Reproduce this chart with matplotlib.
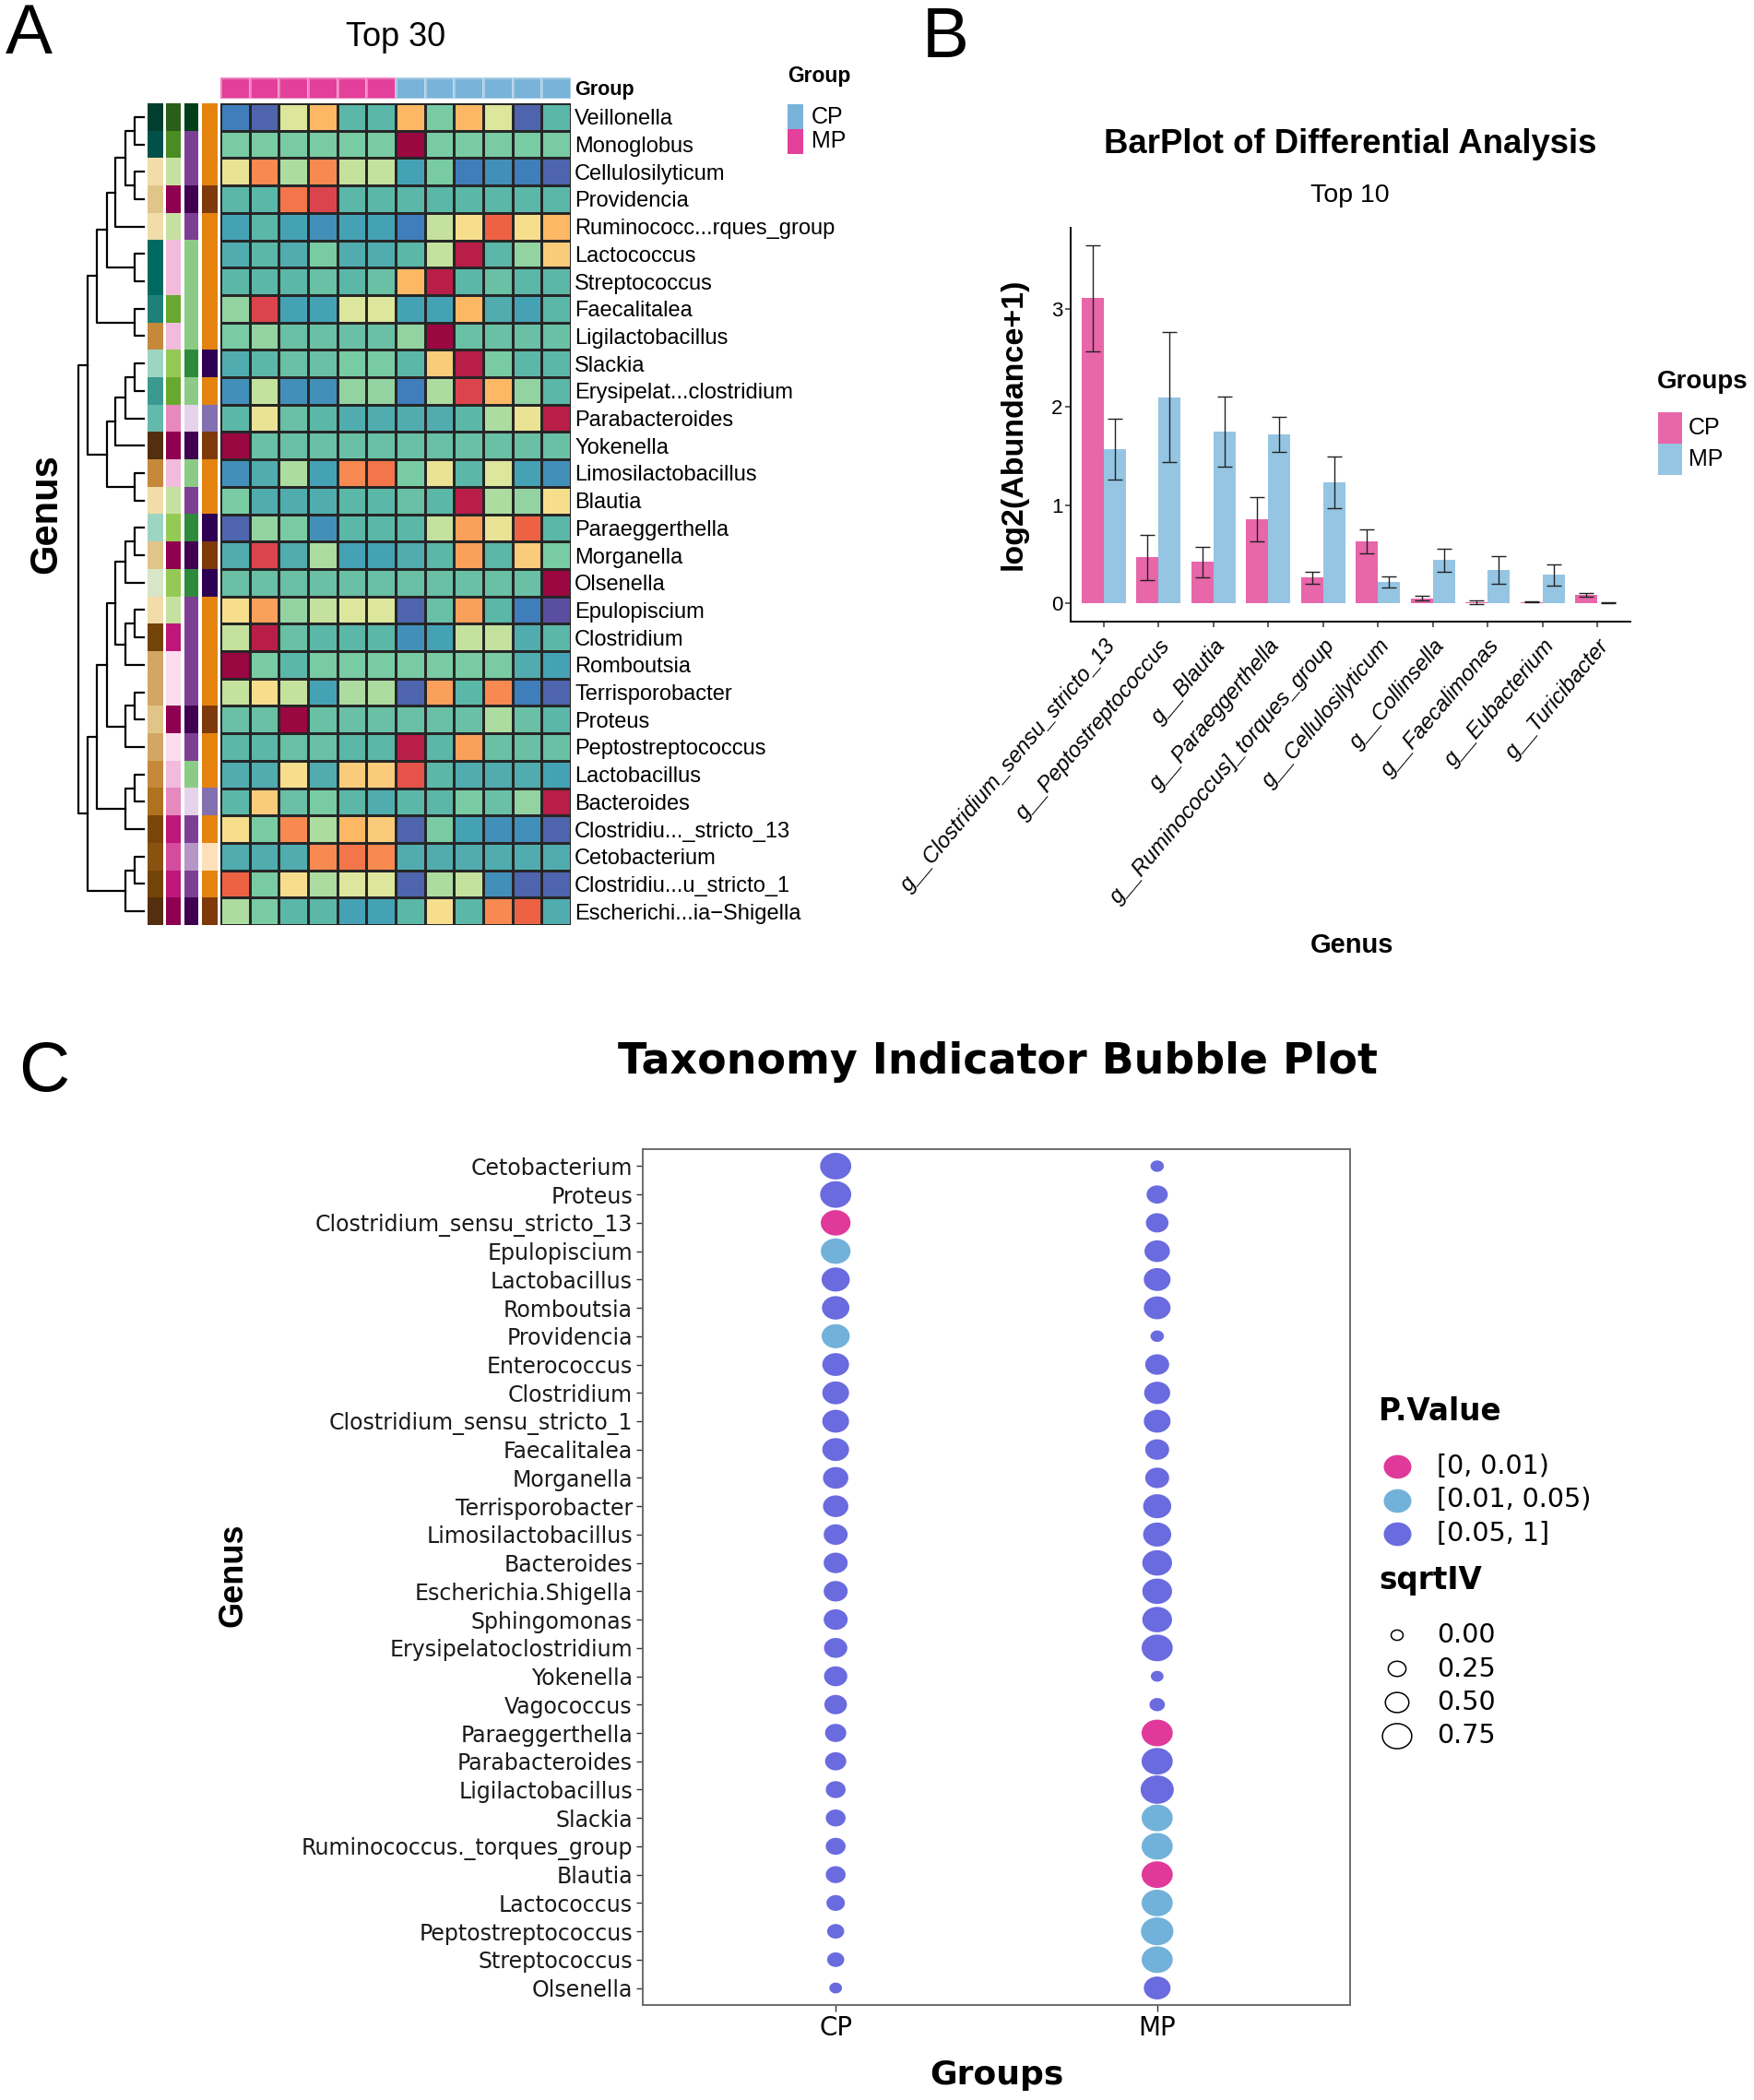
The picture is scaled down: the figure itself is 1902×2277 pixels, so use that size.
import numpy as np
import matplotlib
matplotlib.use("Agg")
import matplotlib.pyplot as plt
from matplotlib.colors import LinearSegmentedColormap, ListedColormap, to_rgb
from matplotlib.patches import Rectangle
from matplotlib.path import Path

W, H = 1902, 2277
ARIAL = ['Liberation Sans', 'DejaVu Sans']
WIDE = ['DejaVu Sans']

## ---------------- panel A data: top 30 heatmap ----------------
genus_a = ['Veillonella', 'Monoglobus', 'Cellulosilyticum', 'Providencia',
           'Ruminococc...rques_group', 'Lactococcus', 'Streptococcus', 'Faecalitalea',
           'Ligilactobacillus', 'Slackia', 'Erysipelat...clostridium', 'Parabacteroides',
           'Yokenella', 'Limosilactobacillus', 'Blautia', 'Paraeggerthella', 'Morganella',
           'Olsenella', 'Epulopiscium', 'Clostridium', 'Romboutsia', 'Terrisporobacter',
           'Proteus', 'Peptostreptococcus', 'Lactobacillus', 'Bacteroides',
           'Clostridiu..._stricto_13', 'Cetobacterium', 'Clostridiu...u_stricto_1',
           'Escherichi...ia\u2212Shigella']
sample_group = ['MP'] * 6 + ['CP'] * 6

# colour level of each cell (0 = low/blue ... 13 = high/dark red)
heat_level = [
    [1, 0.5, 6, 8, 3, 3, 8, 4, 8, 6, 0.5, 3],
    [4, 4, 4, 4, 4, 4, 13, 4, 4, 4, 4, 4],
    [6.5, 9, 5, 9, 5.5, 5.5, 2, 4, 1, 1.5, 1, 0.5],
    [3, 3, 9.5, 11, 3, 3, 3, 3, 3, 3, 3, 3],
    [2, 3, 2, 1.5, 2, 2, 1, 5.5, 7, 10, 7, 8],
    [2.5, 3, 2.5, 4, 2.5, 2.5, 3, 5.5, 12, 3, 4.5, 7.5],
    [3, 3, 3, 3.5, 3, 3.5, 8, 12, 3, 3.5, 3, 3],
    [4.5, 11, 2, 2, 6, 6, 2, 2, 8, 2.5, 2, 3],
    [4, 4.5, 3.5, 3.5, 3.5, 3.5, 4.5, 13, 3.5, 3.5, 3.5, 3.5],
    [2.5, 3, 3.5, 3.5, 4, 4, 3, 7.5, 12, 4, 3, 3],
    [1.5, 5.5, 1.5, 1.5, 4.5, 4.5, 1, 5, 11, 8, 4.5, 3],
    [3, 6.5, 3.5, 3, 2.5, 2.5, 2.5, 2.5, 3, 5, 6.5, 12],
    [13, 3.5, 3.5, 3.5, 3.5, 3.5, 3.5, 3.5, 3.5, 3.5, 3.5, 3.5],
    [1.5, 2.5, 5, 2, 9, 9.5, 4, 6.5, 3, 6, 2, 1.5],
    [4, 2.5, 2.5, 2.5, 3, 3, 3.5, 3, 12, 5, 4.5, 7],
    [0.5, 4.5, 4, 1.5, 3, 3, 3, 5.5, 8.5, 6.5, 10, 3],
    [2.5, 11, 2.5, 5, 2, 2, 2.5, 3, 8.5, 3, 7.5, 4],
    [3.5, 3.5, 3.5, 3.5, 3.5, 3.5, 3.5, 3.5, 3.5, 3.5, 3.5, 13],
    [7, 8.5, 4.5, 5.5, 6, 6, 0.5, 3.5, 8.5, 3, 1, 0],
    [5.5, 12, 3.5, 3, 3, 3, 1.5, 2, 5.5, 5.5, 2.5, 3],
    [13, 4, 3, 4, 4, 4, 4, 4, 4, 4, 2.5, 2],
    [5.5, 7, 5.5, 2, 5, 5, 0.5, 8.5, 3, 9, 1, 0.5],
    [3.5, 3.5, 13, 3.5, 3.5, 3.5, 3.5, 3.5, 3.5, 5, 3.5, 3],
    [3, 3, 3.5, 3.5, 3, 3, 12, 3, 8.5, 3.5, 3.5, 3.5],
    [2.5, 2.5, 7, 2.5, 7.5, 7.5, 10.5, 3, 2.5, 2.5, 2.5, 2],
    [3, 7.5, 3.5, 4, 3, 2.5, 3, 3, 4, 3.5, 4.5, 12],
    [7, 4, 9, 5, 8, 7.5, 0.5, 4, 2, 1.5, 1.5, 0.5],
    [2.5, 2.5, 2.5, 9, 9.5, 9, 2.5, 2.5, 2.5, 2.5, 2.5, 2.5],
    [10, 4, 7, 5, 6, 6, 0.5, 5, 5.5, 1.5, 0.5, 0.5],
    [5, 4, 3, 3, 2, 2, 3, 7, 3, 9, 10, 2.5],
]

# taxonomy annotation colours (4 rank columns) per row
tax_colors = [
    ('#003F2E', '#2A5E19', '#003F18', '#E4840F'),
    ('#02504A', '#4A8B24', '#7D3F93', '#E4840F'),
    ('#F1DCAA', '#C6E19F', '#7D3F93', '#E4840F'),
    ('#E1C588', '#8F0050', '#3F0050', '#7E3A0A'),
    ('#F1DCAA', '#C6E19F', '#7D3F93', '#E4840F'),
    ('#006A62', '#F2BBDC', '#8CCB86', '#E4840F'),
    ('#006A62', '#F2BBDC', '#8CCB86', '#E4840F'),
    ('#1F8079', '#67A92F', '#8CCB86', '#E4840F'),
    ('#C6883A', '#F2BBDC', '#8CCB86', '#E4840F'),
    ('#9DD5C2', '#95C956', '#2E8B3E', '#2D0054'),
    ('#3B9A8F', '#67A92F', '#8CCB86', '#E4840F'),
    ('#63BAAC', '#E788BE', '#E6D3EB', '#8270B0'),
    ('#542F0F', '#8F0050', '#3F0050', '#7E3A0A'),
    ('#C6883A', '#F2BBDC', '#8CCB86', '#E4840F'),
    ('#F1DCAA', '#C6E19F', '#7D3F93', '#E4840F'),
    ('#9DD5C2', '#95C956', '#2E8B3E', '#2D0054'),
    ('#E1C588', '#8F0050', '#3F0050', '#7E3A0A'),
    ('#D8E6C7', '#95C956', '#2E8B3E', '#2D0054'),
    ('#F1DCAA', '#C6E19F', '#7D3F93', '#E4840F'),
    ('#734307', '#BF1779', '#7D3F93', '#E4840F'),
    ('#D2A763', '#FBDDEE', '#7D3F93', '#E4840F'),
    ('#D2A763', '#FBDDEE', '#7D3F93', '#E4840F'),
    ('#E1C588', '#8F0050', '#3F0050', '#7E3A0A'),
    ('#D2A763', '#FBDDEE', '#7D3F93', '#E4840F'),
    ('#C6883A', '#F2BBDC', '#8CCB86', '#E4840F'),
    ('#AF721E', '#E788BE', '#E6D3EB', '#8270B0'),
    ('#7A4608', '#BF1779', '#7D3F93', '#E4840F'),
    ('#8A5210', '#D34C9D', '#B796C7', '#FDE0BA'),
    ('#734307', '#BF1779', '#7D3F93', '#E4840F'),
    ('#542F0F', '#8F0050', '#3F0050', '#7E3A0A'),
]

# row dendrogram: (left, right, height), new clusters numbered from 30
merges = [
    (0, 1, 1.0), (2, 3, 1.0), (30, 31, 2.0), (32, 4, 3.15), (5, 6, 1.0),
    (33, 34, 4.05), (7, 8, 1.0), (35, 36, 5.1), (9, 10, 1.0), (38, 11, 2.0),
    (39, 12, 3.15), (13, 14, 1.0), (40, 41, 4.05), (37, 42, 6.1), (15, 16, 1.0),
    (44, 17, 2.0), (18, 19, 1.0), (46, 20, 2.0), (45, 47, 3.15), (21, 22, 1.0),
    (49, 23, 2.0), (48, 50, 4.05), (24, 25, 1.0), (52, 26, 2.0), (51, 53, 5.1),
    (27, 28, 1.0), (55, 29, 2.0), (54, 56, 6.1), (43, 57, 7.15),
]

## ---------------- panel B data: top 10 barplot ----------------
genus_b = ['g__Clostridium_sensu_stricto_13', 'g__Peptostreptococcus', 'g__Blautia',
           'g__Paraeggerthella', 'g__Ruminococcus]_torques_group', 'g__Cellulosilyticum',
           'g__Collinsella', 'g__Faecalimonas', 'g__Eubacterium', 'g__Turicibacter']
cp_mean = [3.11, 0.47, 0.42, 0.86, 0.26, 0.63, 0.05, 0.01, 0.012, 0.086]
cp_err = [0.54, 0.23, 0.155, 0.225, 0.063, 0.12, 0.025, 0.016, 0.006, 0.02]
mp_mean = [1.57, 2.10, 1.75, 1.72, 1.23, 0.215, 0.44, 0.34, 0.29, 0.005]
mp_err = [0.31, 0.66, 0.355, 0.18, 0.265, 0.057, 0.115, 0.14, 0.11, 0.003]

## ---------------- panel C data: indicator bubble plot ----------------
genus_c = ['Cetobacterium', 'Proteus', 'Clostridium_sensu_stricto_13', 'Epulopiscium',
           'Lactobacillus', 'Romboutsia', 'Providencia', 'Enterococcus', 'Clostridium',
           'Clostridium_sensu_stricto_1', 'Faecalitalea', 'Morganella', 'Terrisporobacter',
           'Limosilactobacillus', 'Bacteroides', 'Escherichia.Shigella', 'Sphingomonas',
           'Erysipelatoclostridium', 'Yokenella', 'Vagococcus', 'Paraeggerthella',
           'Parabacteroides', 'Ligilactobacillus', 'Slackia', 'Ruminococcus._torques_group',
           'Blautia', 'Lactococcus', 'Peptostreptococcus', 'Streptococcus', 'Olsenella']
cp_sqrtiv = [0.83, 0.83, 0.77, 0.77, 0.70, 0.67, 0.70, 0.64, 0.64, 0.64, 0.64, 0.58, 0.58,
             0.52, 0.52, 0.52, 0.52, 0.49, 0.49, 0.46, 0.40, 0.40, 0.34, 0.34, 0.34, 0.34,
             0.28, 0.22, 0.22, 0.03]
mp_sqrtiv = [0.06, 0.40, 0.46, 0.58, 0.64, 0.64, 0.06, 0.52, 0.61, 0.64, 0.52, 0.52, 0.70,
             0.70, 0.77, 0.77, 0.77, 0.83, 0.03, 0.15, 0.83, 0.83, 0.92, 0.83, 0.83, 0.83,
             0.83, 0.89, 0.83, 0.64]
p_levels = ['[0, 0.01)', '[0.01, 0.05)', '[0.05, 1]']
cp_p = [2, 2, 0, 1, 2, 2, 1, 2, 2, 2, 2, 2, 2, 2, 2, 2, 2, 2, 2, 2, 2, 2, 2, 2, 2, 2, 2, 2, 2, 2]
mp_p = [2, 2, 2, 2, 2, 2, 2, 2, 2, 2, 2, 2, 2, 2, 2, 2, 2, 2, 2, 2, 0, 2, 2, 1, 1, 0, 1, 1, 1, 2]
size_breaks = [0.00, 0.25, 0.50, 0.75]

# colours
heat_colors = ['#5A4EA0', '#3F7FBC', '#45A2B5', '#5BB7A7', '#7ACBA3', '#ADDCA1', '#DCE69C',
               '#F7DE8D', '#FDB866', '#F88A50', '#EE6244', '#DC444D', '#B91F48', '#9A0741']
GRP_PINK, GRP_BLUE = '#E2409A', '#78B3DA'
BAR_PINK, BAR_BLUE = '#E866AA', '#95C5E3'
P_COLORS = ['#E0399A', '#72B2DA', '#6A6BDF']


def box(x0, y0, x1, y1):
    # pixel box (top-left origin) -> figure fraction
    return [x0 / W, 1 - y1 / H, (x1 - x0) / W, (y1 - y0) / H]


def bubble_size(v):
    w_px = 13 + 25 * np.asarray(v, dtype=float)
    return (w_px * 0.72) ** 2


t = np.linspace(0, 2 * np.pi, 73)
ELLIPSE = Path(np.column_stack([np.cos(t), 0.855 * np.sin(t)]))

plt.rcParams['font.family'] = ARIAL
fig = plt.figure(figsize=(W / 100, H / 100), dpi=100)
overlay = fig.add_axes([0, 0, 1, 1])
overlay.set_xlim(0, W)
overlay.set_ylim(H, 0)
overlay.axis('off')

## ---------------- panel A ----------------
nrow, ncol = len(genus_a), len(sample_group)
ax_hm = fig.add_axes(box(239, 112, 619, 1003))
ax_hm.pcolormesh(np.array(heat_level), cmap=LinearSegmentedColormap.from_list('heat', heat_colors),
                 vmin=0, vmax=13, edgecolors='#262626', linewidth=0.8)
ax_hm.set_xlim(0, ncol)
ax_hm.set_ylim(nrow, 0)
ax_hm.set_xticks([])
ax_hm.yaxis.tick_right()
ax_hm.set_yticks(np.arange(nrow) + 0.5, genus_a, fontsize=17)
ax_hm.tick_params(axis='y', length=0, pad=3)
for s in ax_hm.spines.values():
    s.set_visible(False)

ax_grp = fig.add_axes(box(239, 84, 619, 107))
grp_codes = [[0 if g == 'MP' else 1 for g in sample_group]]
ax_grp.pcolormesh(grp_codes, cmap=ListedColormap([GRP_PINK, GRP_BLUE]), vmin=-0.5, vmax=1.5,
                  edgecolors=(1, 1, 1, 0.35), linewidth=0.8)
ax_grp.set_xticks([])
ax_grp.yaxis.tick_right()
ax_grp.set_yticks([0.5], ['Group'], fontsize=15.5, fontweight='bold')
ax_grp.tick_params(axis='y', length=0, pad=3)
for s in ax_grp.spines.values():
    s.set_visible(False)

ann_cols = [(160, 176), (180, 196), (200, 215), (219, 235)]
for j, (x0, x1) in enumerate(ann_cols):
    a = fig.add_axes(box(x0, 112, x1, 1003))
    rgb = np.array([[to_rgb(row[j])] for row in tax_colors])
    a.imshow(rgb, aspect='auto', interpolation='nearest', extent=(0, 1, nrow, 0))
    a.axis('off')

ax_den = fig.add_axes(box(84, 112, 156, 1003))
pos = {i: i + 0.5 for i in range(nrow)}
hgt = {i: 0.0 for i in range(nrow)}
for k, (a, b, h) in enumerate(merges):
    ax_den.plot([hgt[a], h, h, hgt[b]], [pos[a], pos[a], pos[b], pos[b]],
                color='black', lw=1.6, clip_on=False)
    pos[nrow + k] = (pos[a] + pos[b]) / 2
    hgt[nrow + k] = h
ax_den.set_xlim(7.2, 0)
ax_den.set_ylim(nrow, 0)
ax_den.axis('off')

overlay.text(6, 38, 'A', fontsize=55, va='center', ha='left')
overlay.text(429, 40, 'Top 30', fontsize=26, ha='center', va='center')
overlay.text(50, 557, 'Genus', fontsize=30, fontweight='bold', rotation=90, ha='center', va='center')
overlay.text(854, 82, 'Group', fontsize=16.5, fontweight='bold', va='center')
for k, (lab, col) in enumerate([('CP', GRP_BLUE), ('MP', GRP_PINK)]):
    y0 = 113 + 27 * k
    overlay.add_patch(Rectangle((854, y0), 17, 27, color=col, lw=0))
    overlay.text(880, y0 + 13.5, lab, fontsize=18, va='center')

## ---------------- panel B ----------------
ax_bar = fig.add_axes(box(1161, 247, 1768, 674))
xb = np.arange(1, len(genus_b) + 1)
ax_bar.bar(xb - 0.2, cp_mean, 0.4, color=BAR_PINK, lw=0)
ax_bar.bar(xb + 0.2, mp_mean, 0.4, color=BAR_BLUE, lw=0)
ax_bar.errorbar(xb - 0.2, cp_mean, yerr=cp_err, fmt='none', ecolor='#222222',
                elinewidth=1.0, capsize=6, capthick=1.0)
ax_bar.errorbar(xb + 0.2, mp_mean, yerr=mp_err, fmt='none', ecolor='#222222',
                elinewidth=1.0, capsize=6, capthick=1.0)
ax_bar.set_xlim(0.4, 10.6)
ax_bar.set_ylim(-0.187, 3.826)
ax_bar.set_yticks([0, 1, 2, 3], ['0', '1', '2', '3'], fontsize=16)
ax_bar.set_xticks(xb, genus_b, fontsize=17, fontstyle='italic',
                  rotation=50, ha='right', va='top', rotation_mode='anchor')
ax_bar.tick_params(length=4.5, width=1.1, color='#333333')
ax_bar.tick_params(axis='x', pad=6)
ax_bar.tick_params(axis='y', pad=1.5)
for side in ['top', 'right']:
    ax_bar.spines[side].set_visible(False)
for side in ['left', 'bottom']:
    ax_bar.spines[side].set_linewidth(1.4)

overlay.text(1000, 43, 'B', fontsize=55, va='center', ha='left')
overlay.text(1464, 156, 'BarPlot of Differential Analysis', fontsize=26.3, fontweight='bold',
             ha='center', va='center')
overlay.text(1464, 212, 'Top 10', fontsize=20.5, ha='center', va='center')
overlay.text(1099, 460, 'log2(Abundance+1)', fontsize=24.5, fontweight='bold', rotation=90,
             ha='center', va='center')
overlay.text(1466, 1025, 'Genus', fontsize=21, fontweight='bold', ha='center', va='center')
overlay.text(1797, 414, 'Groups', fontsize=20, fontweight='bold', va='center')
for k, (lab, col) in enumerate([('CP', BAR_PINK), ('MP', BAR_BLUE)]):
    y0 = 447 + 34 * k
    overlay.add_patch(Rectangle((1798, y0), 26, 34, color=col, lw=0))
    overlay.text(1831, y0 + 17, lab, fontsize=18, va='center')

## ---------------- panel C ----------------
ax_bub = fig.add_axes(box(697, 1246, 1464, 2174))
yy = np.arange(len(genus_c), 0, -1)
for xval, vals, pc in [(1, cp_sqrtiv, cp_p), (2, mp_sqrtiv, mp_p)]:
    ax_bub.scatter(np.full(len(vals), xval), yy, s=bubble_size(vals),
                   c=[P_COLORS[k] for k in pc], marker=ELLIPSE, linewidths=0)
ax_bub.set_xlim(0.4, 2.6)
ax_bub.set_ylim(0.4, len(genus_c) + 0.6)
ax_bub.set_xticks([1, 2], ['CP', 'MP'], fontsize=20, family=WIDE)
ax_bub.set_yticks(yy, genus_c, fontsize=17, family=WIDE, color='#1a1a1a')
ax_bub.tick_params(length=5, width=1.0, color='#333333', pad=3)
for s in ax_bub.spines.values():
    s.set_color('#6b6b6b')
    s.set_linewidth(1.4)

overlay.text(20, 1163, 'C', fontsize=55, va='center', ha='left')
overlay.text(1082, 1152, 'Taxonomy Indicator Bubble Plot', fontsize=33, fontweight='bold',
             family=WIDE, ha='center', va='center')
overlay.text(1081, 2250, 'Groups', fontsize=26, fontweight='bold', family=WIDE,
             ha='center', va='center')
overlay.text(253, 1708, 'Genus', fontsize=26, fontweight='bold', rotation=90,
             ha='center', va='center')

overlay.text(1495, 1530, 'P.Value', fontsize=23.5, fontweight='bold', family=WIDE, va='center')
for k, lab in enumerate(p_levels):
    yk = 1590 + 36.5 * k
    overlay.scatter([1515], [yk], s=(30 * 0.72) ** 2, c=P_COLORS[k], marker=ELLIPSE, linewidths=0)
    overlay.text(1558, yk, lab, fontsize=20.5, family=WIDE, va='center')
overlay.text(1495, 1713, 'sqrtIV', fontsize=23.5, fontweight='bold', family=WIDE, va='center')
for k, v in enumerate(size_breaks):
    yk = 1773 + 36.5 * k
    overlay.scatter([1515], [yk], s=bubble_size(v), facecolors='none', edgecolors='black',
                    marker=ELLIPSE, linewidths=1.1)
    overlay.text(1558, yk, f'{v:.2f}', fontsize=20.5, family=WIDE, va='center')

fig.savefig('out.png', dpi=100)
